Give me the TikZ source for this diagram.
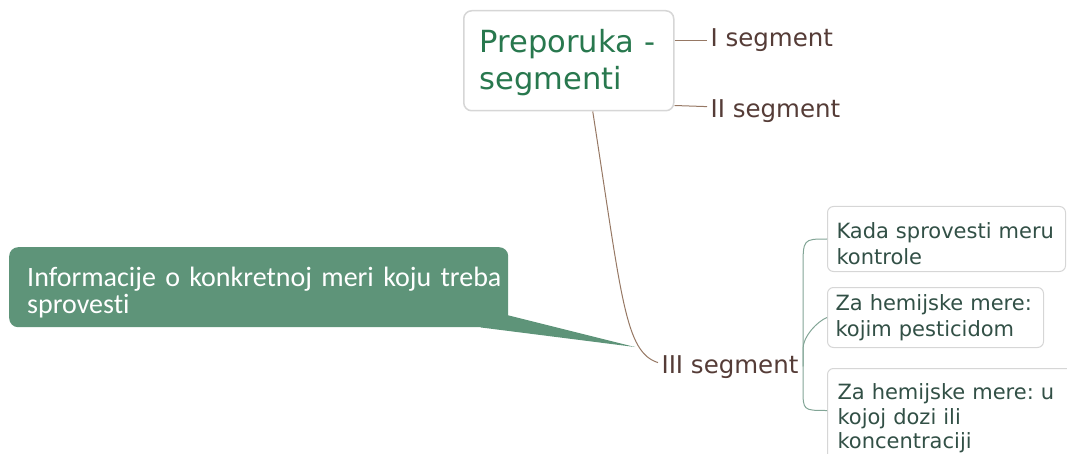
\documentclass[tikz,border=0pt]{standalone}
\usepackage{fontspec}
\setmainfont{DejaVu Sans}
\newfontfamily\notefont[Ligatures=NoCommon]{Carlito}
\usetikzlibrary{calc}
\frenchspacing

\definecolor{rootgreen}{RGB}{40,120,78}
\definecolor{segbrown}{RGB}{85,60,55}
\definecolor{kidtext}{RGB}{50,80,70}
\definecolor{notegreen}{RGB}{94,148,121}
\definecolor{boxgray}{RGB}{214,214,214}
\definecolor{trunkbrown}{RGB}{150,120,100}
\definecolor{twiggreen}{RGB}{130,165,150}

\tikzset{
  rootbox/.style={draw=boxgray, line width=1.5pt, fill=white, rounded corners=8pt,
    anchor=north west, minimum width=210pt, minimum height=100pt, inner xsep=16pt,
    text width=178pt, align=left, text=rootgreen, font=\fontsize{30.5}{37}\selectfont},
  segtext/.style={anchor=base west, text=segbrown, font=\fontsize{24.5}{29}\selectfont},
  kidbox/.style={draw=boxgray, line width=1pt, fill=white, rounded corners=6pt,
    anchor=north west, align=left, text=kidtext, font=\fontsize{21}{25.5}\selectfont},
  notebox/.style={fill=notegreen, rounded corners=9pt, anchor=north west,
    minimum width=499pt, minimum height=80pt, inner xsep=18pt, text width=463pt,
    align=left, text=white, font=\notefont\fontsize{28}{27}\selectfont},
  trunk/.style={draw=trunkbrown, line width=1pt},
  twig/.style={draw=twiggreen, line width=1pt},
}

\begin{document}
\begin{tikzpicture}[x=1pt,y=-1pt]
            \useasboundingbox (0,0) rectangle (1067,454);
            \clip (0,0) rectangle (1067,454);

            \coordinate (tip) at (635,347);

            \node[notebox] (note) at (9,247) {\rule{0pt}{30pt}\mbox{Informacije o konkretnoj meri koju treba}\\sprovesti};
            \fill[notegreen] ([xshift=-28pt]note.south east) -- ([yshift=12pt]note.south east) -- (tip) -- cycle;

            \node[rootbox] (root) at (463,10) {\rule{0pt}{27pt}Preporuka -\\segmenti};

            \node[segtext] (seg1) at (707,47) {I segment};
            \node[segtext] (seg2) at (707,118) {II segment};
            \node[segtext] (seg3) at (658,373) {III segment};

            \node[kidbox, minimum width=238pt, minimum height=65pt, inner xsep=9pt, text width=220pt] (kid1) at (827,206) {\rule{0pt}{25pt}\mbox{Kada sprovesti meru}\\kontrole};
            \node[kidbox, minimum width=216pt, minimum height=60pt, inner xsep=8pt, text width=200pt] (kid2) at (827,287) {\mbox{Za hemijske mere:}\\kojim pesticidom};
            \node[kidbox, minimum width=250pt, minimum height=100pt, inner xsep=10pt, text width=230pt, font=\fontsize{21}{24.5}\selectfont] (kid3) at (827,368) {\mbox{Za hemijske mere: u}\\kojoj dozi ili\\koncentraciji};

            \draw[trunk] (root.east |- seg1.west) -- (seg1.west);
            \draw[trunk] ([yshift=6pt]root.south east) -- ([yshift=5pt]seg2.west);
            \draw[trunk] ([xshift=24pt]root.south) .. controls (622,300) and (625,352) .. ([yshift=4pt]seg3.west);

            \coordinate (fork) at ([xshift=1pt]seg3.east);
            \coordinate (k3in) at ($(kid3.west)+(0,-8)$);
            \draw[twig] (fork) -- ($(fork |- kid1.west)+(0,30)$) .. controls (fork |- kid1.west) .. (kid1.west);
            \draw[twig] (fork) -- ($(fork)+(0,-18)$) .. controls ($(fork)+(0,-30)$) and ($(kid2.west)+(-10,4)$) .. (kid2.west);
            \draw[twig] (fork) -- ($(fork |- k3in)+(0,-22)$) .. controls (fork |- k3in) .. (k3in);
        \end{tikzpicture}
\end{document}
